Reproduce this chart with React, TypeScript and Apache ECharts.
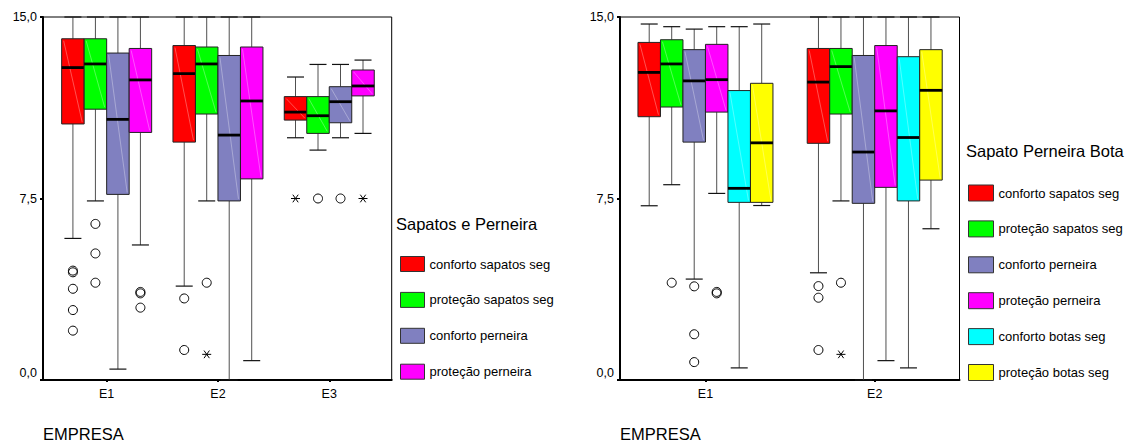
import React, { useEffect, useRef } from "react";
import * as echarts from "echarts";

const leftCategories = ["E1", "E2", "E3"];
const rightCategories = ["E1", "E2"];
const yTicks = [0, 7.5, 15];

const namesLeft = ["conforto sapatos seg", "proteção sapatos seg", "conforto perneira", "proteção perneira"];
const namesRight = ["conforto sapatos seg", "proteção sapatos seg", "conforto perneira", "proteção perneira", "conforto botas seg", "proteção botas seg"];
const colors = ["#ff0000", "#00ff00", "#8080c0", "#ff00ff", "#00ffff", "#ffff00"];

// [min, q1, median, q3, max] per category
const leftConfortoSapatos = [[5.85, 10.58, 12.91, 14.1, 15], [3.88, 9.83, 12.66, 13.82, 15], [10.01, 10.74, 11.07, 11.71, 12.52]];
const leftProtecaoSapatos = [[7.4, 11.19, 13.06, 14.1, 15], [7.4, 10.99, 13.06, 13.76, 15], [9.5, 10.19, 10.92, 11.71, 13.04]];
const leftConfortoPerneira = [[0.45, 7.67, 10.77, 13.51, 15], [0, 7.4, 10.12, 13.41, 15], [10.01, 10.63, 11.5, 12.12, 13.04]];
const leftProtecaoPerneira = [[5.58, 10.23, 12.4, 13.7, 15], [0.8, 8.31, 11.53, 13.76, 15], [10.19, 11.74, 12.15, 12.81, 13.22]];

// outliers (circles) and extremes (stars)
const leftConfortoSapatosOut = [[4.45, 4.52, 3.77, 2.89, 2.04], [3.37, 1.24], []];
const leftConfortoSapatosExt = [[], [], [7.5]];
const leftProtecaoSapatosOut = [[6.45, 5.23, 4.02], [4.02], [7.5]];
const leftProtecaoSapatosExt = [[], [1.06], []];
const leftConfortoPerneiraOut = [[], [], [7.5]];
const leftConfortoPerneiraExt = [[], [], []];
const leftProtecaoPerneiraOut = [[3.58, 3.64, 2.99], [], []];
const leftProtecaoPerneiraExt = [[], [], [7.5]];

const rightConfortoSapatos = [[7.2, 10.88, 12.71, 13.95, 14.71], [4.43, 9.78, 12.31, 13.7, 15]];
const rightProtecaoSapatos = [[8.07, 11.28, 13.06, 14.06, 14.6], [7.4, 10.99, 12.95, 13.7, 15]];
const rightConfortoPerneira = [[4.17, 9.83, 12.36, 13.65, 14.5], [0, 7.3, 9.42, 13.41, 15]];
const rightProtecaoPerneira = [[7.71, 11.07, 12.41, 13.87, 14.6], [0.8, 7.96, 11.12, 13.82, 15]];
const rightConfortoBotas = [[0.5, 7.34, 7.92, 11.96, 14.6], [0.5, 7.4, 10.02, 13.36, 15]];
const rightProtecaoBotas = [[7.21, 7.34, 9.8, 12.26, 14.71], [6.25, 8.26, 11.97, 13.65, 15]];

const rightConfortoSapatosOut = [[], [3.88, 3.4, 1.24]];
const rightConfortoSapatosExt = [[], []];
const rightProtecaoSapatosOut = [[4.02], [4.02]];
const rightProtecaoSapatosExt = [[], [1.06]];
const rightConfortoPerneiraOut = [[3.87, 1.89, 0.74], []];
const rightConfortoPerneiraExt = [[], []];
const rightProtecaoPerneiraOut = [[3.58, 3.64], []];
const rightProtecaoPerneiraExt = [[], []];
const rightConfortoBotasOut = [[], []];
const rightConfortoBotasExt = [[], []];
const rightProtecaoBotasOut = [[], []];
const rightProtecaoBotasExt = [[], []];

const FONT = "'Liberation Sans', Arial, sans-serif";
const BOX_W = 22.5;
const CAP_W = 17;

function makeRender(idx: number, n: number, outs: number[][], exts: number[][]) {
  return (params: any, api: any) => {
    const cat = api.value(0);
    const vals = [api.value(1), api.value(2), api.value(3), api.value(4), api.value(5)];
    const base = api.coord([cat, 0]);
    const cx = base[0] + (idx - (n - 1) / 2) * BOX_W;
    const py = (v: number) => api.coord([cat, v])[1];
    const [mn, q1, md, q3, mx] = vals.map(py);
    const x0 = cx - BOX_W / 2;
    const x1 = cx + BOX_W / 2;
    const color = api.visual("color");
    const ch: any[] = [];
    ch.push({ type: "line", shape: { x1: cx, y1: q3, x2: cx, y2: mx }, style: { stroke: "#505050", lineWidth: 1 } });
    ch.push({ type: "line", shape: { x1: cx, y1: q1, x2: cx, y2: mn }, style: { stroke: "#505050", lineWidth: 1 } });
    ch.push({ type: "line", shape: { x1: cx - CAP_W / 2, y1: mx, x2: cx + CAP_W / 2, y2: mx }, style: { stroke: "#111", lineWidth: 1.2 } });
    ch.push({ type: "line", shape: { x1: cx - CAP_W / 2, y1: mn, x2: cx + CAP_W / 2, y2: mn }, style: { stroke: "#111", lineWidth: 1.2 } });
    ch.push({ type: "rect", shape: { x: x0, y: q3, width: BOX_W, height: q1 - q3 }, style: { fill: color, stroke: "#222", lineWidth: 1 } });
    ch.push({ type: "line", shape: { x1: x0 + 2, y1: q3 + 2, x2: x1 - 2, y2: q1 - 2 }, style: { stroke: "rgba(255,255,255,0.45)", lineWidth: 0.7 } });
    ch.push({ type: "line", shape: { x1: x0, y1: md, x2: x1, y2: md }, style: { stroke: "#000", lineWidth: 2.8 } });
    const di = params.dataIndex;
    (outs[di] || []).forEach((v) => {
      const y = py(v);
      ch.push({ type: "circle", shape: { cx, cy: y, r: 4.5 }, style: { fill: "none", stroke: "#000", lineWidth: 1 } });
    });
    (exts[di] || []).forEach((v) => {
      const y = py(v);
      const s = 4.5;
      ch.push({ type: "line", shape: { x1: cx - s, y1: y, x2: cx + s, y2: y }, style: { stroke: "#000", lineWidth: 1 } });
      ch.push({ type: "line", shape: { x1: cx - s * 0.6, y1: y - s * 0.85, x2: cx + s * 0.6, y2: y + s * 0.85 }, style: { stroke: "#000", lineWidth: 1 } });
      ch.push({ type: "line", shape: { x1: cx - s * 0.6, y1: y + s * 0.85, x2: cx + s * 0.6, y2: y - s * 0.85 }, style: { stroke: "#000", lineWidth: 1 } });
    });
    return { type: "group", children: ch };
  };
}

function boxSeries(name: string, color: string, stats: number[][], idx: number, n: number, outs: number[][], exts: number[][], axisIndex: number) {
  return {
    type: "custom",
    name,
    xAxisIndex: axisIndex,
    yAxisIndex: axisIndex,
    itemStyle: { color },
    data: stats.map((s, i) => [i, ...s]),
    encode: { x: 0, y: [1, 2, 3, 4, 5] },
    renderItem: makeRender(idx, n, outs, exts),
    silent: true,
    clip: false,
  };
}

function xAxisFor(gridIndex: number, cats: string[], min: number, max: number) {
  const vals = cats.map((_, i) => i);
  return {
    type: "value",
    gridIndex,
    min,
    max,
    splitLine: { show: false },
    axisLine: { show: true, onZero: false, lineStyle: { color: "#000", width: 2 } },
    axisTick: { show: true, customValues: vals, length: 2, lineStyle: { color: "#000", width: 2 } },
    axisLabel: {
      customValues: vals,
      formatter: (v: number) => cats[Math.round(v)] ?? "",
      color: "#000",
      fontSize: 12.5,
      fontFamily: FONT,
      margin: 7,
    },
  };
}

function yAxisFor(gridIndex: number) {
  return {
    type: "value",
    gridIndex,
    min: yTicks[0],
    max: yTicks[yTicks.length - 1],
    interval: yTicks[1] - yTicks[0],
    splitLine: { show: false },
    axisLine: { show: true, onZero: false, lineStyle: { color: "#000", width: 2 } },
    axisTick: { show: true, length: 3, lineStyle: { color: "#000", width: 2 } },
    axisLabel: {
      formatter: (v: number) => (v === 0 ? "{low|0,0}" : v.toFixed(1).replace(".", ",")),
      color: "#000",
      fontSize: 12.5,
      fontFamily: FONT,
      margin: 6,
      rich: { low: { fontSize: 12.5, fontFamily: FONT, color: "#000", padding: [0, 0, 14, 0] } },
    },
  };
}

export default function App() {
  const ref = useRef<HTMLDivElement>(null);
  useEffect(() => {
    if (!ref.current) return;
    const chart = echarts.init(ref.current, undefined, { renderer: "svg" });
    const leftStats = [leftConfortoSapatos, leftProtecaoSapatos, leftConfortoPerneira, leftProtecaoPerneira];
    const leftOuts = [leftConfortoSapatosOut, leftProtecaoSapatosOut, leftConfortoPerneiraOut, leftProtecaoPerneiraOut];
    const leftExts = [leftConfortoSapatosExt, leftProtecaoSapatosExt, leftConfortoPerneiraExt, leftProtecaoPerneiraExt];
    const rightStats = [rightConfortoSapatos, rightProtecaoSapatos, rightConfortoPerneira, rightProtecaoPerneira, rightConfortoBotas, rightProtecaoBotas];
    const rightOuts = [rightConfortoSapatosOut, rightProtecaoSapatosOut, rightConfortoPerneiraOut, rightProtecaoPerneiraOut, rightConfortoBotasOut, rightProtecaoBotasOut];
    const rightExts = [rightConfortoSapatosExt, rightProtecaoSapatosExt, rightConfortoPerneiraExt, rightProtecaoPerneiraExt, rightConfortoBotasExt, rightProtecaoBotasExt];

    const series: any[] = [];
    namesLeft.forEach((nm, i) => series.push(boxSeries(nm, colors[i], leftStats[i], i, namesLeft.length, leftOuts[i], leftExts[i], 0)));
    namesRight.forEach((nm, i) => series.push(boxSeries(nm, colors[i], rightStats[i], i, namesRight.length, rightOuts[i], rightExts[i], 1)));

    const legendCommon = {
      orient: "vertical",
      padding: 0,
      icon: "rect",
      selectedMode: false,
      itemStyle: { borderColor: "#333", borderWidth: 1 },
      textStyle: { fontSize: 13, fontFamily: FONT, color: "#000" },
    };

    chart.setOption({
      animation: false,
      backgroundColor: "#fff",
      textStyle: { fontFamily: FONT },
      grid: [
        { left: 43, right: 1130 - 391.7, top: 17, bottom: 63, show: true, borderColor: "#000", borderWidth: 1, backgroundColor: "transparent" },
        { left: 620, right: 1130 - 959.5, top: 17, bottom: 63, show: true, borderColor: "#000", borderWidth: 1, backgroundColor: "transparent" },
      ],
      xAxis: [xAxisFor(0, leftCategories, -0.572, 2.561), xAxisFor(1, rightCategories, -0.505, 1.501)],
      yAxis: [yAxisFor(0), yAxisFor(1)],
      title: [
        { text: "Sapatos e Perneira", left: 396, top: 215, padding: 0, textStyle: { fontSize: 16.5, fontWeight: "normal", fontFamily: FONT, color: "#000" } },
        { text: "Sapato Perneira Bota", left: 966, top: 142, padding: 0, textStyle: { fontSize: 16.5, fontWeight: "normal", fontFamily: FONT, color: "#000" } },
      ],
      legend: [
        { ...legendCommon, left: 400, top: 256, itemWidth: 24, itemHeight: 15, itemGap: 19.9, data: namesLeft },
        { ...legendCommon, left: 968, top: 184.5, itemWidth: 25, itemHeight: 16, itemGap: 18.9, data: namesRight },
      ],
      graphic: [
        { type: "text", left: 43, top: 425, style: { text: "EMPRESA", fontSize: 16.5, fontFamily: FONT, fill: "#000" } },
        { type: "text", left: 620, top: 425, style: { text: "EMPRESA", fontSize: 16.5, fontFamily: FONT, fill: "#000" } },
      ],
      series,
    });
    return () => chart.dispose();
  }, []);
  return <div ref={ref} style={{ position: "absolute", left: 0, top: 0, width: 1130, height: 443 }} />;
}
